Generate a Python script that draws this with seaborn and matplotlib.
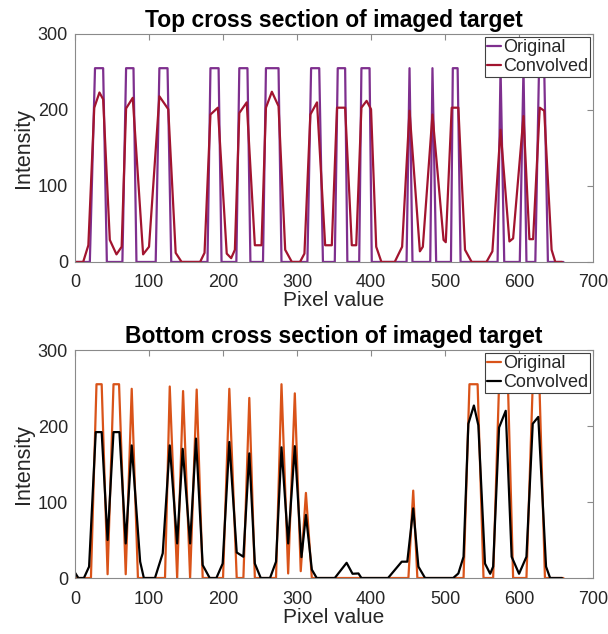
import numpy as np
import pandas as pd
import seaborn as sns
import matplotlib
matplotlib.use("Agg")
import matplotlib.pyplot as plt

# ---- Top cross section ----
top_orig_x = [0, 20, 27, 38, 43, 64, 69, 79, 83, 109, 114, 125, 130, 179, 183, 194, 198,
              218, 222, 233, 237, 254, 258, 275, 279, 314, 319, 330, 335, 351, 355, 365, 368,
              384, 387, 398, 401, 448, 452, 456, 480, 483, 488, 508, 510.5, 517, 521,
              571, 575, 580, 601, 606, 610, 622, 627, 634, 639, 660]
top_orig_y = [0, 0, 255, 255, 0, 0, 255, 255, 0, 0, 255, 255, 0, 0, 255, 255, 0,
              0, 255, 255, 0, 0, 255, 255, 0, 0, 255, 255, 0, 0, 255, 255, 0,
              0, 255, 255, 0, 0, 255, 0, 0, 255, 0, 0, 255, 255, 0,
              0, 255, 0, 0, 255, 0, 0, 255, 255, 0, 0]

top_conv_x = [0, 11, 18, 26, 33, 38, 47, 56, 63, 69, 78, 92, 100, 114, 126, 136, 144, 169,
              175, 183, 193, 205, 211, 216, 222, 232, 243, 252, 258, 266, 275, 284, 293, 304,
              310, 318, 327, 338, 347, 354, 365, 374, 380, 387, 394, 400, 407, 414, 432,
              442, 452, 466, 470, 483, 498, 501, 509, 518, 527, 536, 556, 564, 575, 587,
              592, 606, 614, 619, 628, 634, 644, 649, 658]
top_conv_y = [0, 0, 22, 203, 223, 214, 29, 10, 20, 202, 216, 10, 20, 218, 201, 12, 0, 0,
              12, 194, 203, 11, 5, 16, 196, 210, 22, 22, 203, 224, 205, 16, 0, 0,
              11, 194, 210, 22, 22, 203, 203, 22, 22, 203, 212, 201, 20, 0, 0,
              20, 199, 14, 20, 194, 29, 26, 203, 203, 16, 0, 0, 14, 174, 27,
              31, 192, 30, 30, 203, 199, 16, 0, 0]

# ---- Bottom cross section ----
bot_orig_x = [0, 21.5, 29, 36, 44, 52, 59.5, 68.5, 76.6, 85, 121.6, 128, 138, 146, 155.5,
              164.4, 172.5, 200, 208.5, 218.5, 227.5, 235.5, 243, 271.6, 279, 288, 297, 305,
              312, 320, 450.5, 457, 462.6, 525, 533, 544, 552, 565, 573, 585, 592, 610,
              618.5, 627.5, 635, 660]
bot_orig_y = [0, 0, 255, 255, 5, 255, 255, 5, 249, 0, 0, 252, 0, 246, 0,
              248, 0, 0, 249, 0, 0, 237, 0, 0, 255, 6, 243, 9,
              112, 0, 0, 115, 0, 0, 255, 255, 0, 0, 255, 255, 0, 0,
              255, 255, 0, 0]

bot_conv_x = [0, 4.5, 12, 19, 28, 36, 44, 52, 60, 68.5, 76.6, 88, 93, 108, 118.5, 128, 138,
              145.5, 155.5, 163.5, 172.5, 182, 191, 199.5, 208.5, 218.5, 227.5, 235.5, 243,
              251, 263.5, 271.6, 279, 288, 297, 306, 312, 320, 326.6, 351, 367, 375, 383,
              387, 423, 441.5, 449, 457, 464, 473, 511, 518, 525, 531.5, 539, 545, 554,
              561, 565, 573, 582, 590, 600, 610, 618.5, 626, 636.5, 642, 658]
bot_conv_y = [7, 0, 0, 15, 192, 192, 50, 192, 192, 45.5, 174.5, 21.5, 0, 0, 32.5, 174.5, 45.5,
              170, 45.5, 183.5, 17, 0, 0, 19, 179, 33.6, 28, 164, 19,
              0, 0, 21.5, 172, 45.5, 173.5, 27.5, 83, 11, 0, 0, 20, 5.6, 6,
              0, 0, 21.5, 21.5, 91.6, 15, 0, 0, 6, 28, 203, 227, 201, 19,
              5.6, 15, 198, 220, 28, 5.6, 28, 203, 212, 15, 0, 0]

series_labels = ["Original", "Convolved"]
top_colors = ["#7E2F8E", "#A2142F"]
bot_colors = ["#D95319", "#000000"]
x_ticks = [0, 100, 200, 300, 400, 500, 600, 700]
y_ticks = [0, 100, 200, 300]

sns.set_theme(style="white")
plt.rcParams["font.family"] = ["Liberation Sans", "DejaVu Sans"]
plt.rcParams["axes.edgecolor"] = "#8a8a8a"
plt.rcParams["axes.linewidth"] = 0.8

fig = plt.figure(figsize=(6.08, 6.34), dpi=100)
ax_top = fig.add_axes([0.1234, 0.5868, 0.852, 0.3596])
ax_bot = fig.add_axes([0.1234, 0.0883, 0.852, 0.3596])

panels = [
    (ax_top, "Top cross section of imaged target",
     [(top_orig_x, top_orig_y), (top_conv_x, top_conv_y)], top_colors),
    (ax_bot, "Bottom cross section of imaged target",
     [(bot_orig_x, bot_orig_y), (bot_conv_x, bot_conv_y)], bot_colors),
]

for ax, title, series, colors in panels:
    for (xs, ys), lab, col in zip(series, series_labels, colors):
        df = pd.DataFrame({"Pixel value": xs, "Intensity": ys})
        sns.lineplot(data=df, x="Pixel value", y="Intensity", ax=ax, color=col,
                     label=lab, estimator=None, sort=False, linewidth=1.6)
    ax.set_xlim(0, 700)
    ax.set_ylim(0, 300)
    ax.set_xticks(x_ticks)
    ax.set_yticks(y_ticks)
    ax.tick_params(direction="in", length=4, width=0.8, color="#8a8a8a",
                   labelsize=13, labelcolor="#262626", pad=5,
                   top=True, right=True)
    ax.tick_params(axis="x", pad=9)
    ax.set_xlabel("Pixel value", fontsize=15, color="#262626", labelpad=0)
    ax.set_ylabel("Intensity", fontsize=15.5, color="#262626", labelpad=3)
    ax.set_title(title, fontsize=16.5, fontweight="bold", color="#000000", pad=5)
    for sp in ax.spines.values():
        sp.set_visible(True)
    leg = ax.legend(loc="upper right", fontsize=13, handlelength=0.8,
                    handletextpad=0.1, borderpad=0.12, labelspacing=0.12,
                    borderaxespad=0.15, frameon=True, fancybox=False, framealpha=1)
    leg.get_frame().set_edgecolor("#404040")
    leg.get_frame().set_linewidth(0.8)
    for t in leg.get_texts():
        t.set_color("#262626")

fig.savefig("out.png", dpi=100)
